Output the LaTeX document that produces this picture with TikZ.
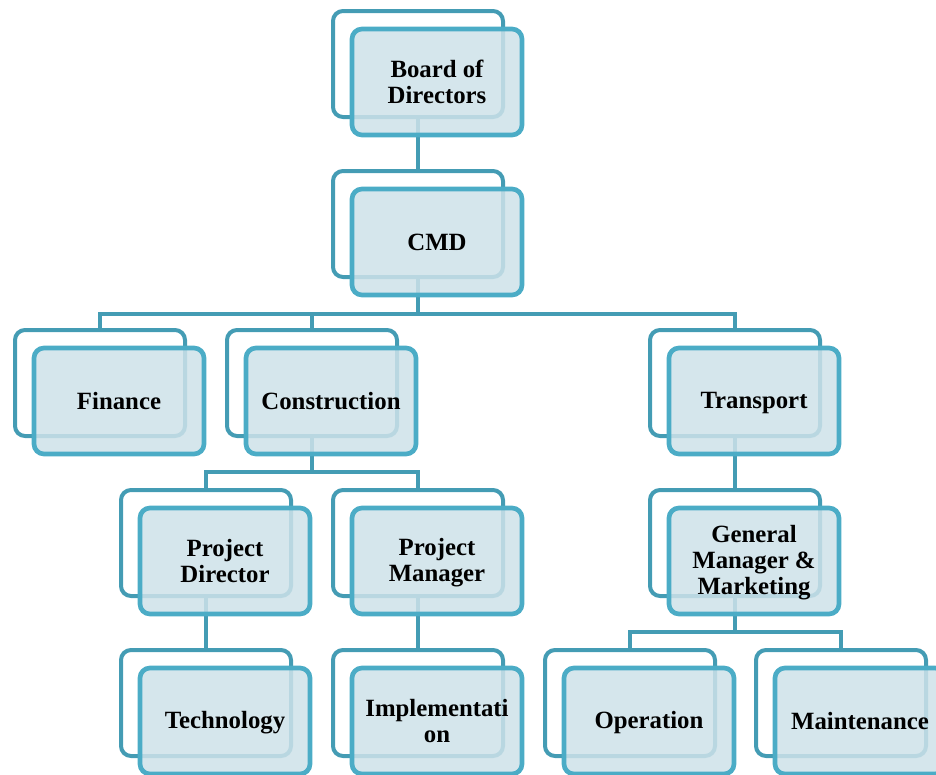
\documentclass[tikz,border=0pt]{standalone}
\usepackage{fontspec}
\setmainfont{Liberation Serif}
\usepackage{tikz}

\definecolor{backline}{HTML}{449CB4}
\definecolor{frontline}{HTML}{4BACC6}
\definecolor{frontfill}{HTML}{CEE2E9}

% line strut, a little lower than \strut
\newcommand{\ls}{\rule[-1.2pt]{0pt}{15.8pt}}

\begin{document}
\begin{tikzpicture}[x=0.75pt, y=-0.75pt,
                    backbox/.style={draw=backline,
                                  line width=3pt,
                                  rounded corners=7.5pt,
                                  minimum width=127.5pt,
                                  minimum height=79.5pt,
                                  inner sep=0pt},
                    frontbox/.style={backbox,
                                  draw=frontline,
                                  line width=3.5pt,
                                  fill=frontfill,
                                  fill opacity=0.85,
                                  text opacity=1,
                                  align=center,
                                  font=\fontsize{18.6}{19.5}\selectfont\bfseries},
                    link/.style={draw=backline, line width=3pt}]
                      \useasboundingbox (0,0) rectangle (936,775);

                      % back outlines
                      \node[backbox] (boardB) at (418, 64) {};
                      \node[backbox] (cmdB) at (418, 224) {};
                      \node[backbox] (finB) at (100, 383) {};
                      \node[backbox] (conB) at (312, 383) {};
                      \node[backbox] (traB) at (735, 383) {};
                      \node[backbox] (pdB) at (206, 543) {};
                      \node[backbox] (pmB) at (418, 543) {};
                      \node[backbox] (gmB) at (735, 543) {};
                      \node[backbox] (techB) at (206, 703) {};
                      \node[backbox] (implB) at (418, 703) {};
                      \node[backbox] (opB) at (630, 703) {};
                      \node[backbox] (mtB) at (841, 703) {};

                      % connectors
                      \draw[link] (boardB) -- (cmdB);
                      \foreach \c in {finB, conB, traB} {
                              \draw[link] (cmdB.south) -- ++(0, 35) -| (\c.north);
                          }
                      \foreach \c in {pdB, pmB} {
                              \draw[link] (conB.south) -- ++(0, 34) -| (\c.north);
                          }
                      \foreach \c in {opB, mtB} {
                              \draw[link] (gmB.south) -- ++(0, 34) -| (\c.north);
                          }
                      \foreach \i/\j in {traB/gmB, pdB/techB, pmB/implB} {
                              \draw[link] (\i.south) -- (\j.north);
                          }

                      % front boxes
                      \node[frontbox] (board) at (437, 82) {Board of\ls\\Directors\ls};
                      \node[frontbox] (cmd) at (437, 242) {CMD\ls};
                      \node[frontbox] (fin) at (119, 401) {Finance\ls};
                      \node[frontbox] (con) at (331, 401) {Construction\ls};
                      \node[frontbox] (tra) at (754, 401) {Transport\ls};
                      \node[frontbox] (pd) at (225, 561) {Project\ls\\Director\ls};
                      \node[frontbox] (pm) at (437, 561) {Project\ls\\Manager\ls};
                      \node[frontbox] (gm) at (754, 561) {General\ls\\Manager \&\ls\\Marketing\ls};
                      \node[frontbox] (tech) at (225, 721) {Technology\ls};
                      \node[frontbox] (impl) at (437, 721) {Implementati\ls\\on\ls};
                      \node[frontbox] (op) at (649, 721) {Operation\ls};
                      \node[frontbox] (mt) at (860, 721) {Maintenance\ls};
                  \end{tikzpicture}
\end{document}
